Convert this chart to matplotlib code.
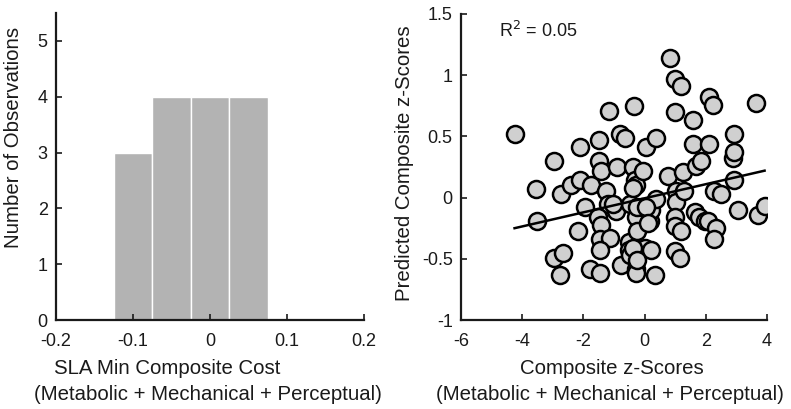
import matplotlib

matplotlib.use("Agg")

import matplotlib.pyplot as plt
import numpy as np

plt.rcParams["font.family"] = ["Liberation Sans", "DejaVu Sans"]

# histogram (left panel)
bin_edges = [-0.125, -0.075, -0.025, 0.025, 0.075]
bin_counts = [3, 4, 4, 4]
hist_xticks = [-0.2, -0.1, 0, 0.1, 0.2]
hist_xtick_labels = ["-0.2", "-0.1", "0", "0.1", "0.2"]

# scatter (right panel)
composite_z = [
    -4.24, -3.55, -3.53, -2.97, -2.72, -2.39, -2.12, -2.12, -2.17, -2.97,
    -2.66, -2.77, -1.96, -1.74, -1.79, -1.47, -1.49, -1.16, -1.49, -1.41,
    -1.25, -1.20, -1.52, -1.41, -1.47, -1.14, -1.47, -0.90, -0.82, -0.65,
    -0.95, -0.76, -0.35, -0.38, -0.33, -0.27, -0.05, -0.49, -0.51, -0.51,
    -0.49, -0.29, -0.29, -0.27, -0.24, -0.08, 0.05, 0.36, 0.00, 0.22,
    0.33, 0.16, 0.22, 0.38, 0.76, 0.82, 0.98, 1.20, 0.98, 1.03,
    1.03, 0.98, 0.98, 1.20, 0.98, 1.14, 1.27, 1.30, 1.58, 1.58,
    1.68, 1.85, 1.63, 1.79, 1.96, 2.07, 2.12, 2.23, 2.10, 2.28,
    2.50, 2.34, 2.28, 2.88, 2.93, 2.93, 2.93, 3.04, 3.64, 3.70,
    3.92, -1.03, -0.38, -0.25, 0.05, 0.11, -0.38, -0.25,
]
predicted_z = [
    0.52, 0.07, -0.19, 0.30, 0.03, 0.10, 0.14, 0.41, -0.27, -0.49,
    -0.45, -0.63, -0.08, 0.10, -0.58, -0.62, 0.47, 0.71, 0.30, 0.22,
    0.05, -0.05, -0.16, -0.22, -0.34, -0.33, -0.43, 0.25, 0.52, 0.49,
    -0.11, -0.55, 0.75, 0.25, 0.14, 0.10, 0.22, -0.05, -0.36, -0.43,
    -0.47, -0.58, -0.62, -0.16, -0.27, -0.08, 0.41, 0.49, -0.41, -0.43,
    -0.63, -0.19, -0.10, -0.01, 0.18, 1.14, 0.97, 0.91, 0.70, 0.05,
    -0.04, -0.16, -0.23, -0.27, -0.44, -0.49, 0.21, 0.05, 0.63, 0.44,
    0.26, 0.30, -0.12, -0.16, -0.19, -0.19, 0.82, 0.76, 0.44, 0.05,
    0.03, -0.25, -0.34, 0.32, 0.37, 0.52, 0.14, -0.10, 0.77, -0.14,
    -0.07, -0.05, 0.08, -0.08, -0.08, -0.21, -0.41, -0.51,
]
fit_x = [-4.25, 3.92]
fit_y = [-0.25, 0.22]
r_squared = 0.05
scat_xticks = [-6, -4, -2, 0, 2, 4]
scat_yticks = [-1, -0.5, 0, 0.5, 1, 1.5]
scat_ytick_labels = ["-1", "-0.5", "0", "0.5", "1", "1.5"]

ink = "#1a1a1a"
label_size = 14.7
fig = plt.figure(figsize=(7.91, 4.09), dpi=100, facecolor="white")

ax_hist = fig.add_axes((0.0708, 0.2176, 0.3894, 0.7506))
ax_scat = fig.add_axes((0.5828, 0.2176, 0.3869, 0.7482))

ax_hist.bar(
    bin_edges[:-1],
    bin_counts,
    width=np.diff(bin_edges),
    align="edge",
    color="#b3b3b3",
    edgecolor="white",
    linewidth=1.0,
)
ax_hist.set_xlim(-0.2, 0.2)
ax_hist.set_ylim(0, 5.5)
ax_hist.set_xticks(hist_xticks, hist_xtick_labels)
ax_hist.set_yticks(range(6), [str(v) for v in range(6)])

ax_scat.plot(fit_x, fit_y, color="black", linewidth=1.8, zorder=3)
ax_scat.scatter(
    composite_z, predicted_z, s=150, facecolor="#d0d0d0",
    edgecolor="black", linewidth=1.8, zorder=2,
)
ax_scat.set_xlim(-6, 4)
ax_scat.set_ylim(-1, 1.5)
ax_scat.set_xticks(scat_xticks, [str(v) for v in scat_xticks])
ax_scat.set_yticks(scat_yticks, scat_ytick_labels)
ax_scat.text(-4.75, 1.36, f"R$^2$ = {r_squared:.2f}", fontsize=13, color=ink,
             va="center", ha="left")

for ax in (ax_hist, ax_scat):
    for side in ("top", "right"):
        ax.spines[side].set_visible(False)
    for side in ("left", "bottom"):
        ax.spines[side].set_linewidth(1.6)
        ax.spines[side].set_color(ink)
    ax.tick_params(direction="in", length=4, width=1.2, colors=ink, labelsize=13)
    ax.tick_params(axis="x", pad=9)
    ax.tick_params(axis="y", pad=6)

fig.text(167 / 791, 1 - 368 / 409, "SLA Min Composite Cost", fontsize=label_size,
         color=ink, ha="center", va="center")
fig.text(208 / 791, 1 - 395 / 409, "(Metabolic + Mechanical + Perceptual)",
         fontsize=label_size, color=ink, ha="center", va="center")
fig.text(612 / 791, 1 - 368 / 409, "Composite z-Scores", fontsize=label_size,
         color=ink, ha="center", va="center")
fig.text(610 / 791, 1 - 395 / 409, "(Metabolic + Mechanical + Perceptual)",
         fontsize=label_size, color=ink, ha="center", va="center")
fig.text(14 / 791, 1 - 137 / 409, "Number of Observations", fontsize=label_size,
         color=ink, ha="center", va="center", rotation=90)
fig.text(405 / 791, 1 - 163 / 409, "Predicted Composite z-Scores", fontsize=label_size,
         color=ink, ha="center", va="center", rotation=90)

fig.savefig("out.png", dpi=100, facecolor="white")
